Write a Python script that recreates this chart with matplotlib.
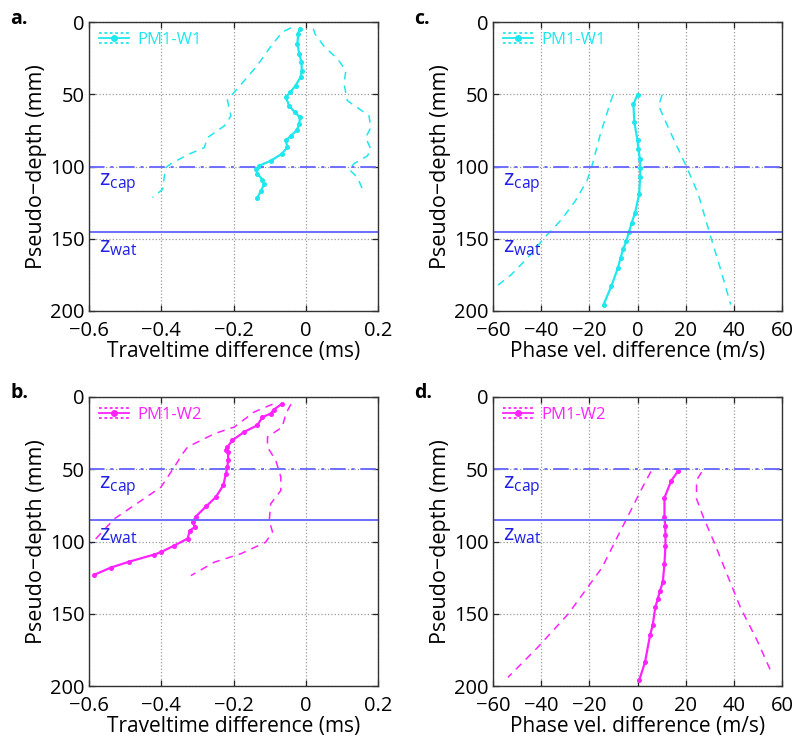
import matplotlib
matplotlib.use("Agg")
import matplotlib.pyplot as plt
from matplotlib.lines import Line2D
from matplotlib.legend_handler import HandlerBase
from matplotlib.transforms import blended_transform_factory

plt.rcParams['font.family'] = ['Open Sans', 'DejaVu Sans']
plt.rcParams['mathtext.fontset'] = 'custom'
plt.rcParams['mathtext.rm'] = 'Open Sans'
plt.rcParams['mathtext.it'] = 'Open Sans:italic'

# ---------------- data ----------------
# Panel a: traveltime difference, PM1-W1
a_depth = [4.6, 8, 15, 22, 27.8, 33.6, 38, 44, 48.6, 52, 58, 62.5, 66, 70.6, 75, 78.7, 82, 86.8,
           91.4, 96, 99.5, 102, 105, 109, 112, 117, 121.5]
a_mid = [-0.016, -0.021, -0.023, -0.018, -0.012, -0.011, -0.014, -0.028, -0.043, -0.055, -0.046,
         -0.030, -0.016, -0.018, -0.025, -0.041, -0.055, -0.051, -0.067, -0.097, -0.129, -0.138,
         -0.134, -0.120, -0.115, -0.124, -0.134]
a_lo_depth = [4, 7, 17, 30, 38, 50, 54, 65, 72, 80, 87, 91.4, 98, 100.7, 107.6, 115.7, 121.5]
a_lo = [-0.041, -0.065, -0.097, -0.134, -0.161, -0.203, -0.217, -0.207, -0.226, -0.272, -0.281,
        -0.323, -0.373, -0.387, -0.392, -0.396, -0.424]
a_hi_depth = [4.6, 8, 17, 25.5, 33.6, 42.8, 54.4, 64.8, 73, 80, 88, 92.6, 98, 102, 107.6, 118]
a_hi = [0.021, 0.025, 0.051, 0.088, 0.111, 0.106, 0.115, 0.175, 0.180, 0.166, 0.180, 0.171,
        0.134, 0.120, 0.143, 0.161]

# Panel b: traveltime difference, PM1-W2
b_depth = [4.6, 8.8, 11.5, 13.9, 19.6, 24.2, 30, 34.6, 37, 38, 43.9, 48.5, 53, 61, 69.3, 75.7,
           82.7, 86.6, 90, 92.4, 98, 102.8, 107.4, 109, 113.9, 118, 123]
b_mid = [-0.065, -0.089, -0.097, -0.120, -0.134, -0.171, -0.203, -0.217, -0.221, -0.215, -0.215,
         -0.217, -0.221, -0.228, -0.249, -0.276, -0.304, -0.313, -0.307, -0.321, -0.327, -0.364,
         -0.401, -0.419, -0.488, -0.539, -0.585]
b_lo_depth = [5, 10.4, 20.8, 25.4, 34.6, 39.3, 48.5, 62.4, 75, 84.3, 101.6]
b_lo = [-0.092, -0.143, -0.198, -0.253, -0.327, -0.341, -0.364, -0.401, -0.475, -0.530, -0.594]
b_hi_depth = [5, 11.5, 20.8, 27.7, 34.6, 43.9, 55.4, 64.7, 73.9, 85.5, 93.5, 100.5, 108.5, 114.3,
              123.6]
b_hi = [-0.041, -0.055, -0.065, -0.106, -0.106, -0.083, -0.069, -0.069, -0.097, -0.101, -0.092,
        -0.111, -0.180, -0.253, -0.318]

# Panel c: phase velocity difference, PM1-W1
c_depth = [50.2, 57, 69.4, 82, 88, 95, 100.7, 107, 119, 132, 139, 145, 151.6, 157, 163, 170, 183,
           195.6]
c_mid = [0, -1.7, -1.3, 0, 0.4, 1, 1.1, 1.1, 0.7, -1, -2.4, -3.5, -4.6, -5.9, -7, -8.1, -10.9,
         -14.1]
c_lo_depth = [50.5, 59, 77.5, 99.5, 110, 124, 136.6, 149, 163, 174.8, 185]
c_lo = [-10.2, -11.9, -15.4, -18.9, -21, -25.9, -31.5, -38.5, -45.5, -52.4, -60.1]
c_hi_depth = [50.5, 58, 75, 100, 119, 147, 170, 195.6]
c_hi = [10.2, 8.8, 13.3, 20.3, 25.2, 30.1, 34.3, 38.7]

# Panel d: phase velocity difference, PM1-W2
d_depth = [51.3, 58, 69.7, 83, 89.4, 95.8, 102.8, 115.5, 128, 134, 139.7, 145.5, 158, 165, 183.6,
           196]
d_mid = [16.8, 14, 11.2, 11.2, 11.5, 11.6, 11.6, 11.2, 10.5, 9.4, 8.4, 7.4, 6.3, 5.2, 3.1, 0.7]
d_lo_depth = [51.5, 62.4, 85.5, 99.3, 118, 134, 150, 173, 194]
d_lo = [5.6, 2.1, -4.9, -9.1, -14.7, -21.7, -28.7, -41.3, -53.8]
d_hi_depth = [52, 57.7, 70.4, 83, 99.3, 122.4, 145.5, 168.6, 191.7]
d_hi = [26.6, 24.5, 24.5, 27.3, 31.5, 37.1, 42.7, 49.7, 55.9]

depth_ticks = [0, 50, 100, 150, 200]
tt_ticks = [-0.6, -0.4, -0.2, 0, 0.2]
tt_labels = ['\u22120.6', '\u22120.4', '\u22120.2', '0', '0.2']
pv_ticks = [-60, -40, -20, 0, 20, 40, 60]
pv_labels = ['\u221260', '\u221240', '\u221220', '0', '20', '40', '60']

zcap_W1, zwat_W1 = 100, 145
zcap_W2, zwat_W2 = 50, 85

CYAN = '#1ee8ee'
MAG = '#ff22ff'
BLUE_LINE = '#6e6eff'
BLUE_TXT = '#1f1fe8'


class BandHandler(HandlerBase):
    def create_artists(self, legend, orig_handle, xdescent, ydescent, width, height,
                       fontsize, trans):
        col = orig_handle.get_color()
        y0 = height / 2 - ydescent
        x0, x1 = -xdescent, width - xdescent
        arts = []
        for dy in (height * 0.42, -height * 0.42):
            l = Line2D([x0, x1], [y0 + dy] * 2, color=col, lw=1.3, linestyle=(0, (1.5, 1.5)))
            l.set_transform(trans)
            arts.append(l)
        l = Line2D([x0, x1], [y0, y0], color=col, lw=1.3)
        l.set_transform(trans)
        arts.append(l)
        m = Line2D([(x0 + x1) / 2], [y0], color=col, marker='o', markersize=4, lw=0)
        m.set_transform(trans)
        arts.append(m)
        return arts


fig = plt.figure(figsize=(7.94, 7.44), dpi=100)
W, H = 794, 744


def make_ax(left_px, top_px, w_px=289, h_px=289):
    return fig.add_axes([left_px / W, 1 - (top_px + h_px) / H, w_px / W, h_px / H])


def panel(ax, mid_d, mid, lo_d, lo, hi_d, hi, color, label, zcap, zwat, xticks, xlabels,
          xlim, xlabel):
    ax.plot(lo, lo_d, color=color, lw=1.1, ls=(0, (5, 4)))
    ax.plot(hi, hi_d, color=color, lw=1.1, ls=(0, (5, 4)))
    ln, = ax.plot(mid, mid_d, color=color, lw=1.6, marker='o', markersize=2.6, label=label)
    ax.axhline(zcap, color=BLUE_LINE, lw=1.4, ls=(0, (8, 3, 1.5, 3)))
    ax.axhline(zwat, color=BLUE_LINE, lw=1.4)
    tr = blended_transform_factory(ax.transAxes, ax.transData)
    for lab, z in ((r'$\mathrm{z}_{\mathrm{cap}}$', zcap), (r'$\mathrm{z}_{\mathrm{wat}}$', zwat)):
        ax.annotate(lab, xy=(0.035, z), xycoords=tr,
                    xytext=(0, -4), textcoords='offset points', va='top', ha='left',
                    color=BLUE_TXT, fontsize=16)
    ax.set_xlim(*xlim)
    ax.set_ylim(200, 0)
    ax.set_xticks(xticks)
    ax.set_xticklabels(xlabels)
    ax.set_yticks(depth_ticks)
    ax.grid(True, ls=':', color='#9a9a9a', lw=0.9)
    ax.tick_params(direction='in', top=True, right=True, labelsize=14.5, length=4,
                   width=0.9, colors='#222222', labelcolor='black')
    ax.tick_params(axis='x', pad=7)
    ax.tick_params(axis='y', pad=3)
    for s in ax.spines.values():
        s.set_color('#333333')
        s.set_linewidth(1.0)
    ax.set_xlabel(xlabel, fontsize=15, labelpad=0)
    ax.set_ylabel('Pseudo\u2212depth (mm)', fontsize=15.5, labelpad=2)
    ax.legend(handles=[ln], loc='upper left', frameon=False, fontsize=12,
              handler_map={Line2D: BandHandler()}, handlelength=1.8,
              handletextpad=0.5, borderaxespad=0.2, labelcolor=color)
    return ax


axA = make_ax(89, 22)
panel(axA, a_depth, a_mid, a_lo_depth, a_lo, a_hi_depth, a_hi, CYAN, 'PM1-W1', zcap_W1,
      zwat_W1, tt_ticks, tt_labels, (-0.6, 0.2), 'Traveltime difference (ms)')
axC = make_ax(493, 22)
panel(axC, c_depth, c_mid, c_lo_depth, c_lo, c_hi_depth, c_hi, CYAN, 'PM1-W1', zcap_W1,
      zwat_W1, pv_ticks, pv_labels, (-60, 60), 'Phase vel. difference (m/s)')
axB = make_ax(89, 397)
panel(axB, b_depth, b_mid, b_lo_depth, b_lo, b_hi_depth, b_hi, MAG, 'PM1-W2', zcap_W2,
      zwat_W2, tt_ticks, tt_labels, (-0.6, 0.2), 'Traveltime difference (ms)')
axD = make_ax(493, 397)
panel(axD, d_depth, d_mid, d_lo_depth, d_lo, d_hi_depth, d_hi, MAG, 'PM1-W2', zcap_W2,
      zwat_W2, pv_ticks, pv_labels, (-60, 60), 'Phase vel. difference (m/s)')

for txt, x, y in [('a.', 10, 24), ('c.', 414, 24), ('b.', 10, 398), ('d.', 414, 398)]:
    fig.text(x / W, 1 - y / H, txt, fontsize=14, fontweight='bold', ha='left', va='baseline')

fig.savefig('out.png', dpi=100)
